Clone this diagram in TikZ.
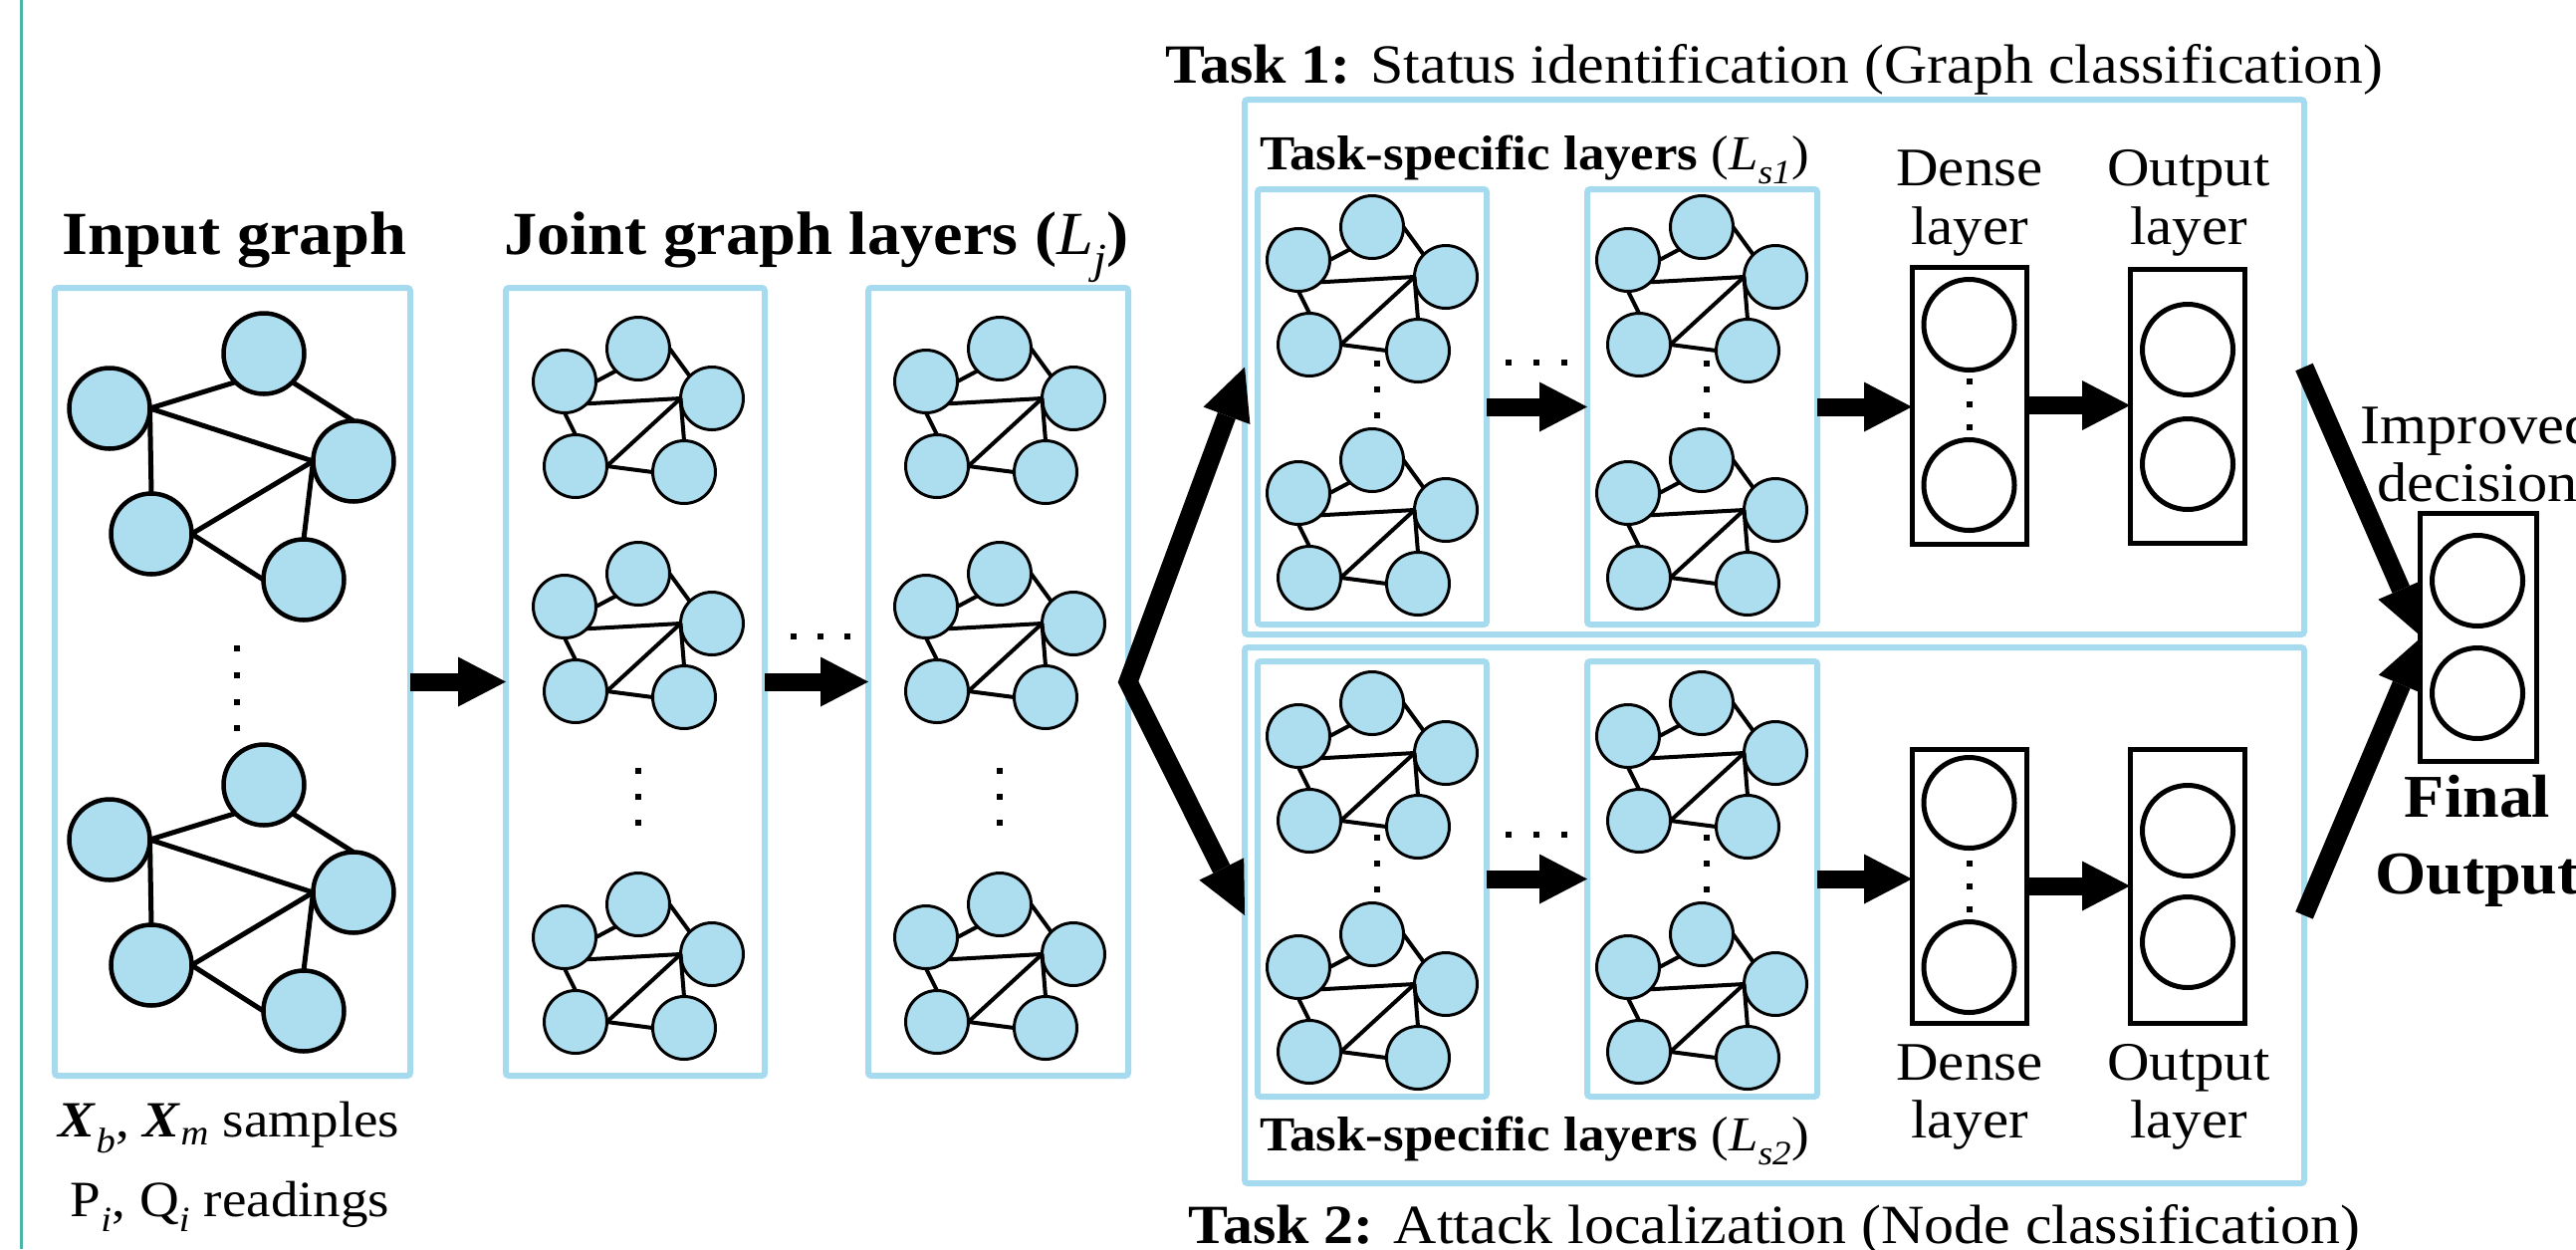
\documentclass[tikz,border=0pt]{standalone}
\usepackage{fontspec}
\setmainfont{Liberation Serif}[FakeStretch=1.08]
\usetikzlibrary{arrows.meta}

\definecolor{framecol}{RGB}{166,219,239}
\definecolor{nodecol}{RGB}{172,222,240}
\definecolor{rulecol}{RGB}{74,182,170}

% small square used for the "more layers / more samples" ellipses
\newcommand\sqmark[2]{\fill (#1-3,#2-3) rectangle (#1+3,#2+3);}

\tikzset{
  frame/.style={draw=framecol, line width=6pt, rounded corners=3pt, fill=white, inner sep=0pt, outer sep=0pt},
  layerbox/.style={draw=black, line width=5pt, fill=white, inner sep=0pt, outer sep=0pt},
  unit/.style={circle, draw=black, line width=5pt, minimum size=91pt, inner sep=0pt, outer sep=0pt},
  gsmall/.style={circle, draw=black, fill=nodecol, line width=3pt, minimum size=63pt, inner sep=0pt, outer sep=0pt},
  gbig/.style={circle, draw=black, fill=nodecol, line width=4.5pt, minimum size=81pt, inner sep=0pt, outer sep=0pt},
  esmall/.style={line width=4pt},
  ebig/.style={line width=5pt},
  flow/.style={line width=18pt, -{Triangle[length=48pt,width=50pt,line width=0pt]}},
  branch/.style={line width=19pt, line join=miter, -{Triangle[length=52pt,width=50pt,line width=0pt]}},
  fork/.style={line width=19pt, line join=miter, {Triangle[length=52pt,width=50pt,line width=0pt]}-{Triangle[length=52pt,width=50pt,line width=0pt]}},
  lbl/.style={anchor=base, inner sep=0pt, outer sep=0pt},
  fmain/.style={font=\fontsize{61.5}{70}\selectfont\bfseries},
  ftask/.style={font=\fontsize{55.5}{64}\selectfont},
  fsub/.style={font=\fontsize{49}{56}\selectfont},
  flayer/.style={font=\fontsize{54.5}{60}\selectfont},
  fimp/.style={font=\fontsize{56}{60}\selectfont},
  ffinal/.style={font=\fontsize{61}{70}\selectfont\bfseries},
  fsample/.style={font=\fontsize{51}{58}\selectfont},
  % five-node graph used inside the layer boxes
  smallgraph/.pic={
    \node[gsmall] (-a) at (0,0) {};
    \node[gsmall] (-b) at (-74,33) {};
    \node[gsmall] (-c) at (74,50) {};
    \node[gsmall] (-d) at (-63,118) {};
    \node[gsmall] (-e) at (46,124) {};
    \draw[esmall] (-b.east) -- (-a.225);
    \draw[esmall] (-a.east) -- (-c.135);
    \draw[esmall] (-b.-45) -- (-c.west);
    \draw[esmall] (-c.west) -- (-d.east);
    \draw[esmall] (-b.south) -- (-d.north);
    \draw[esmall] (-d.east) -- (-e.west);
    \draw[esmall] (-c.west) -- (-e.north);
  },
  % larger input graph sample
  biggraph/.pic={
    \node[gbig] (-a) at (0,0) {};
    \node[gbig] (-b) at (-155,55) {};
    \node[gbig] (-c) at (90,108) {};
    \node[gbig] (-d) at (-113,181) {};
    \node[gbig] (-e) at (40,227) {};
    \draw[ebig] (-b.east) -- (-a.225);
    \draw[ebig] (-a.-45) -- (-c.north);
    \draw[ebig] (-b.east) -- (-c.west);
    \draw[ebig] (-b.east) -- (-d.north);
    \draw[ebig] (-d.east) -- (-c.west);
    \draw[ebig] (-d.east) -- (-e.west);
    \draw[ebig] (-c.west) -- (-e.north);
  }
}

\begin{document}
\begin{tikzpicture}[x=1pt,y=-1pt]
\useasboundingbox (0,0) rectangle (2587,1254);
\fill[white] (0,0) rectangle (2587,1254);
\draw[rulecol, line width=3pt] (21,0) -- (21,1254);

% ---------- containers ----------
\node[frame, minimum width=357pt, minimum height=791pt] (inbox) at (233.5,684.5) {};
\node[frame, minimum width=260pt, minimum height=791pt] (jbox1) at (638,684.5) {};
\node[frame, minimum width=261pt, minimum height=791pt] (jbox2) at (1002.5,684.5) {};
\node[frame, minimum width=1064pt, minimum height=537pt] (task1) at (1782,368.5) {};
\node[frame, minimum width=1064pt, minimum height=538pt] (task2) at (1782,919) {};
\node[frame, minimum width=230pt, minimum height=437pt] (s1a) at (1378,408.5) {};
\node[frame, minimum width=231pt, minimum height=437pt] (s1b) at (1709.5,408.5) {};
\node[frame, minimum width=230pt, minimum height=437pt] (s2a) at (1378,882.5) {};
\node[frame, minimum width=231pt, minimum height=437pt] (s2b) at (1709.5,882.5) {};

% ---------- dense / output / final layers ----------
\node[layerbox, minimum width=115pt, minimum height=278pt] (d1) at (1977.5,407) {};
\node[layerbox, minimum width=115pt, minimum height=275pt] (o1) at (2196.5,407.5) {};
\node[layerbox, minimum width=115pt, minimum height=275pt] (d2) at (1977.5,889.5) {};
\node[layerbox, minimum width=115pt, minimum height=275pt] (o2) at (2196.5,889.5) {};
\node[unit] (d1u) at (1977.5,326) {};
\node[unit] (d1l) at (1977.5,487) {};
\node[unit] (o1u) at (2197,351) {};
\node[unit] (o1l) at (2197,466) {};
\node[unit] (d2u) at (1977.5,806) {};
\node[unit] (d2l) at (1977.5,971) {};
\node[unit] (o2u) at (2197,834) {};
\node[unit] (o2l) at (2197,946) {};

% ---------- graphs ----------
\pic (ig1) at (265,355) {biggraph};
\pic (ig2) at (265,788) {biggraph};
\foreach \yy [count=\k] in {350,576,908} {
  \pic (ja\k) at (641,\yy) {smallgraph};
  \pic (jb\k) at (1004,\yy) {smallgraph};
}
\foreach \yy [count=\k] in {228,462} {
  \pic (ta\k) at (1378,\yy) {smallgraph};
  \pic (tb\k) at (1709,\yy) {smallgraph};
}
\foreach \yy [count=\k] in {706,938} {
  \pic (ua\k) at (1378,\yy) {smallgraph};
  \pic (ub\k) at (1709,\yy) {smallgraph};
}

% ---------- ellipsis dots ----------
\foreach \yy in {651,678,705,731} { \sqmark{238}{\yy} }
\foreach \yy in {774,800,826} { \sqmark{641}{\yy} \sqmark{1004}{\yy} }
\foreach \xx in {797,824,851} { \sqmark{\xx}{639} }
\foreach \yy in {365,391,417} { \sqmark{1383}{\yy} \sqmark{1714}{\yy} }
\foreach \yy in {841,867,893} { \sqmark{1383}{\yy} \sqmark{1714}{\yy} }
\foreach \xx in {1515,1543,1571} { \sqmark{\xx}{364} \sqmark{\xx}{838} }
\foreach \yy in {383,406,429} { \sqmark{1977.5}{\yy} }
\foreach \yy in {867,890,913} { \sqmark{1977.5}{\yy} }

% ---------- flow arrows ----------
\draw[flow] (inbox.east) -- (jbox1.west);
\draw[flow] (jbox1.east) -- (jbox2.west);
\draw[fork] (task1.west) -- (jbox2.east) -- (task2.west);
\draw[flow] (s1a.east) -- (s1b.west);
\draw[flow] (s1b.east) -- (s1b.east -| d1.west);
\draw[flow] (d1.east) -- (d1.east -| o1.west);
\draw[flow] (s2a.east) -- (s2b.west);
\draw[flow] (s2b.east) -- (s2b.east -| d2.west);
\draw[flow] (d2.east) -- (d2.east -| o2.west);
\draw[branch] (task1.east) -- (2432,639.5) coordinate (fin-in);
\draw[branch] (task2.east) -- (fin-in);

% ---------- final output ----------
\node[layerbox, minimum width=117pt, minimum height=249pt] (fin) at (2488.5,639.5) {};
\node[unit] (fu) at (2488,583) {};
\node[unit] (fl) at (2488,696) {};

% ---------- labels ----------
\node[lbl, fmain] (tin) at (235.5,255) {Input graph};
\node[lbl, fmain] (tjoint) at (820,255) {Joint graph layers (\textit{\mdseries L}\textsubscript{\mdseries\itshape j})};
\node[lbl, ftask] (tt1) at (1782,83) {\textbf{Task 1:} Status identification (Graph classification)};
\node[lbl, ftask] (tt2) at (1782,1248) {\textbf{Task 2:} Attack localization (Node classification)};
\node[lbl, fsub, anchor=base west] (tsl1) at (1265,170) {\textbf{Task-specific layers} (\textit{L}\textsubscript{\itshape s1})};
\node[lbl, fsub, anchor=base west] (tsl2) at (1265,1155) {\textbf{Task-specific layers} (\textit{L}\textsubscript{\itshape s2})};

\node[lbl, flayer] (ld1a) at (1978,186) {Dense};
\node[lbl, flayer] (ld1b) at (1978,245) {layer};
\node[lbl, flayer] (lo1a) at (2198,186) {Output};
\node[lbl, flayer] (lo1b) at (2198,245) {layer};
\node[lbl, flayer] (ld2a) at (1978,1084) {Dense};
\node[lbl, flayer] (ld2b) at (1978,1142) {layer};
\node[lbl, flayer] (lo2a) at (2198,1084) {Output};
\node[lbl, flayer] (lo2b) at (2198,1142) {layer};

\node[lbl, fimp] (limp) at (2488,445) {Improved};
\node[lbl, fimp] (ldec) at (2488,503) {decision};
\node[lbl, ffinal] (lfin) at (2488,820) {Final};
\node[lbl, ffinal] (lout) at (2488,897) {Output};

\node[lbl, fsample] (lxs) at (230,1141) {\textbf{\textit{X}}\textsubscript{\itshape b}, \textbf{\textit{X}}\textsubscript{\itshape m} samples};
\node[lbl, fsample] (lpq) at (231,1221) {P\textsubscript{\itshape i}, Q\textsubscript{\itshape i} readings};
\end{tikzpicture}
\end{document}
